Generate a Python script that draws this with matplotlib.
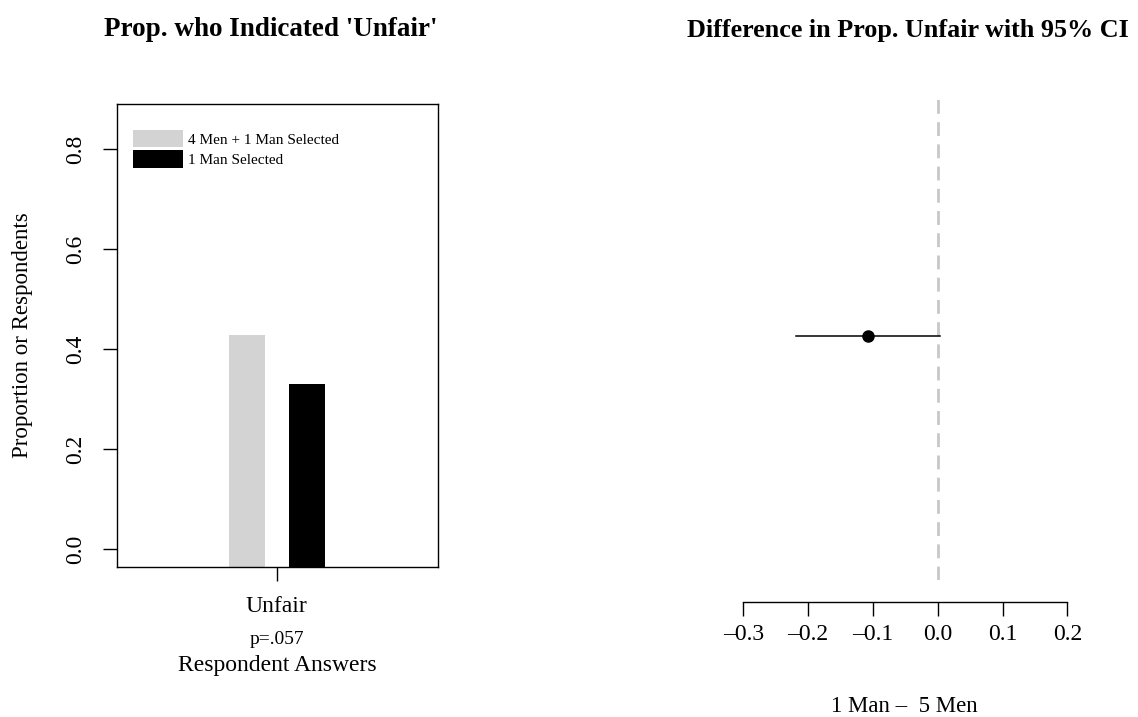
import matplotlib
matplotlib.use("Agg")
import matplotlib.pyplot as plt

# ---- data
categories = ["Unfair"]
groups = ["4 Men + 1 Man Selected", "1 Man Selected"]
group_colors = ["#d3d3d3", "#000000"]
prop_unfair = [0.428, 0.330]
p_value_text = "p=.057"

diff_est = [-0.108]
diff_lo = [-0.219]
diff_hi = [0.0035]
diff_ticks = [-0.3, -0.2, -0.1, 0.0, 0.1, 0.2]

plt.rcParams['font.family'] = ['Liberation Serif', 'DejaVu Serif']
plt.rcParams['axes.linewidth'] = 1.0

W, H = 1138, 717
fig = plt.figure(figsize=(W / 100, H / 100), dpi=100)


def px_axes(x0, y0, x1, y1):
    # pixel box (top-left origin) -> figure axes
    return fig.add_axes([x0 / W, 1 - y1 / H, (x1 - x0) / W, (y1 - y0) / H])


# ------------------------------- left panel: bars
ax = px_axes(117, 104, 438, 567)
ybot = -0.036
ax.set_ylim(ybot, 0.89)
ax.set_xlim(0, 1)
bar_x = [0.405, 0.592]
for i, g in enumerate(groups):
    ax.bar(bar_x[i], prop_unfair[i] - ybot, bottom=ybot, width=0.112,
           color=group_colors[i], label=g, edgecolor='none')
ax.set_yticks([0.0, 0.2, 0.4, 0.6, 0.8])
ax.set_yticklabels(["0.0", "0.2", "0.4", "0.6", "0.8"], rotation=90, va='center')
ax.set_xticks([0.498])
ax.set_xticklabels(categories)
ax.tick_params(axis='both', length=10, width=1, labelsize=17, direction='out')
ax.tick_params(axis='x', pad=11)
ax.tick_params(axis='y', pad=12)
ax.set_ylabel("Proportion or Respondents", fontsize=16.5, labelpad=23)
leg = ax.legend(loc='upper left', bbox_to_anchor=(0.05, 0.944), frameon=False,
                fontsize=11, handlelength=3.27, handleheight=1.37,
                handletextpad=0.3, labelspacing=0.2, borderaxespad=0, borderpad=0)
fig.text(277 / W, 1 - 640 / H, p_value_text, ha='center', va='center', fontsize=14)
fig.text(277 / W, 1 - 666 / H, "Respondent Answers", ha='center', va='center', fontsize=17)
fig.text(271 / W, 1 - 30 / H, "Prop. who Indicated 'Unfair'", ha='center',
         va='center', fontsize=19.5, fontweight='bold')

# ------------------------------- right panel: difference with CI
ax2 = px_axes(720, 92, 1100, 580)
x_per_px = 0.1 / 64.8
ax2.set_xlim((720 - 937.7) * x_per_px, (1100 - 937.7) * x_per_px)
ax2.set_ylim(0, 1)
ax2.axvline(0, color='#c8c8c8', lw=2, ls=(0, (5, 3)))
ax2.plot([diff_lo[0], diff_hi[0]], [0.5, 0.5], color='black', lw=1.1)
ax2.plot(diff_est, [0.5], 'o', color='black', markersize=8)
for s in ['top', 'left', 'right']:
    ax2.spines[s].set_visible(False)
ax2.spines['bottom'].set_position(('outward', 16))
ax2.spines['bottom'].set_bounds(diff_ticks[0], diff_ticks[-1])
ax2.set_yticks([])
ax2.set_xticks(diff_ticks)
ax2.set_xticklabels(["\u20130.3", "\u20130.2", "\u20130.1", "0.0", "0.1", "0.2"])
ax2.tick_params(axis='x', length=10, width=1, labelsize=17, pad=6)
fig.text(904 / W, 1 - 706 / H, "1 Man \u2013  5 Men", ha='center', va='center', fontsize=16.5)
fig.text(908 / W, 1 - 30 / H, "Difference in Prop. Unfair with 95% CI", ha='center',
         va='center', fontsize=18.8, fontweight='bold')

fig.savefig("out.png", dpi=100)
